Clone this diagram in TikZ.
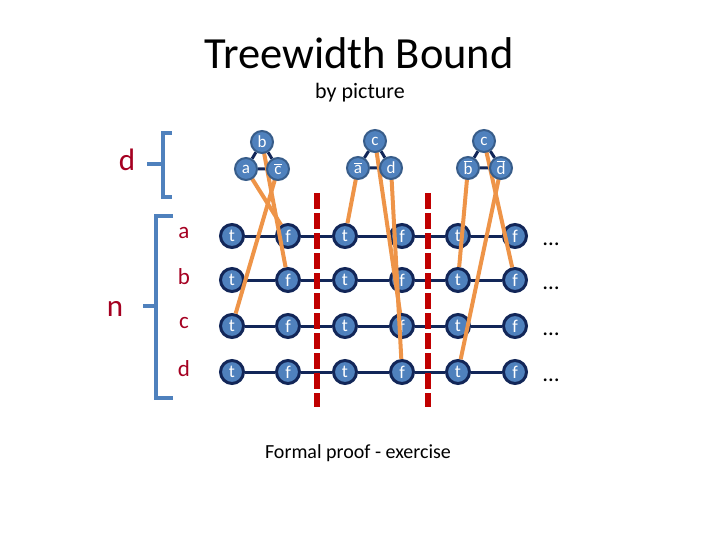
\documentclass[tikz,border=0pt]{standalone}
\usepackage{fontspec}
\setmainfont{Carlito}
\pgfdeclarelayer{bg}
\pgfdeclarelayer{fg}
\pgfsetlayers{bg,main,fg}
\definecolor{nodefill}{RGB}{79,129,189}
\definecolor{gridnavy}{RGB}{18,38,88}
\definecolor{topborder}{RGB}{56,93,138}
\definecolor{litorange}{RGB}{238,148,72}
\definecolor{sepred}{RGB}{192,0,0}
\definecolor{lblred}{RGB}{165,0,33}
\definecolor{braceblue}{RGB}{79,129,189}
\tikzset{
  gnode/.style={circle,fill=nodefill,draw=gridnavy,line width=3pt,minimum size=23pt,inner sep=0pt,text=white,font=\fontsize{18}{18}\selectfont},
  tnode/.style={circle,fill=nodefill,draw=topborder,line width=2pt,minimum size=22pt,inner sep=0pt,text=white,font=\fontsize{17}{17}\selectfont},
  gedge/.style={draw=gridnavy,line width=3pt},
  tedge/.style={draw=gridnavy,line width=3pt},
  lit/.style={draw=litorange,line width=4pt},
  sepline/.style={draw=sepred,line width=6.5pt,dash pattern=on 16pt off 4pt},
  bracket/.style={draw=braceblue,line width=4pt},
  rowlbl/.style={text=lblred,font=\fontsize{23}{23}\selectfont},
  biglbl/.style={text=lblred,font=\fontsize{31}{31}\selectfont},
  dotlbl/.style={font=\fontsize{23}{23}\selectfont,anchor=base,inner sep=0pt},
}
\newcommand{\ovl}[1]{$\overline{\mbox{#1}}$}
\begin{document}
\begin{tikzpicture}[x=1pt,y=-1pt]
\useasboundingbox (0,0) rectangle (720,540);

% titles
\node[font=\fontsize{44.5}{44.5}\selectfont] (title) at (359,53) {Treewidth Bound};
\node[font=\fontsize{22}{22}\selectfont] (sub) at (360,93) {by picture};
\node[font=\fontsize{20}{20}\selectfont] (foot) at (358,453) {Formal proof - exercise};

% left labels and brackets
\node[biglbl] (dlbl) at (127,160) {d};
\node[biglbl] (nlbl) at (115,309) {n};
\draw[bracket] (172,133) -- (163,133) -- (163,197) -- (172,197);
\draw[bracket] (163,164) -- (147,164);
\draw[bracket] (173,216) -- (156,216) -- (156,398) -- (173,398);
\draw[bracket] (156,306) -- (143,306);

% grid
\foreach \r/\y in {a/236,b/280,c/326,d/372} {
  \node[rowlbl] (lab\r) at (184,\y-3) {\r};
  \foreach \c/\x/\v in {1/232/t,2/288/f,3/345/t,4/402/f,5/458/t,6/515/f}
    \node[gnode] (g\c\r) at (\x,\y) {\v};
  \node[dotlbl] (dots\r) at (551,\y+9) {…};
  \begin{pgfonlayer}{bg}
    \draw[gedge] (g1\r) -- (g2\r) -- (g3\r) -- (g4\r) -- (g5\r) -- (g6\r);
  \end{pgfonlayer}
}

% separators
\coordinate (s1top) at (317,193);
\coordinate (s1bot) at (317,407);
\coordinate (s2top) at (428,193);
\coordinate (s2bot) at (428,407);
\draw[sepline] (s1top) -- (s1bot);
\draw[sepline] (s2top) -- (s2bot);

% clause triangles
\begin{pgfonlayer}{fg}
\node[tnode] (b1) at (262,142) {b};
\node[tnode] (a1) at (246,169) {a};
\node[tnode] (cb1) at (278,169) {\ovl{c}};
\node[tnode] (c2) at (375,141) {c};
\node[tnode] (ab2) at (358,168) {\ovl{a}};
\node[tnode] (d2) at (391,168) {d};
\node[tnode] (c3) at (484,141) {c};
\node[tnode] (bb3) at (468,168) {\ovl{b}};
\node[tnode] (db3) at (501,168) {\ovl{d}};
\end{pgfonlayer}
\begin{pgfonlayer}{bg}
\draw[tedge] (b1) -- (a1) -- (cb1) -- (b1);
\draw[tedge] (c2) -- (ab2) -- (d2) -- (c2);
\draw[tedge] (c3) -- (bb3) -- (db3) -- (c3);
\end{pgfonlayer}

% literal connections
\draw[lit] (a1.center) -- (g2a);
\draw[lit] (b1.center) -- (g2b);
\draw[lit] (cb1.center) -- (g1c);
\draw[lit] (ab2.center) -- (g3a);
\draw[lit] (c2.center) -- (g4c);
\draw[lit] (d2.center) -- (g4d);
\draw[lit] (bb3.center) -- (g5b);
\draw[lit] (c3.center) -- (g6b);
\draw[lit] (db3.center) -- (g5d);
\end{tikzpicture}
\end{document}
